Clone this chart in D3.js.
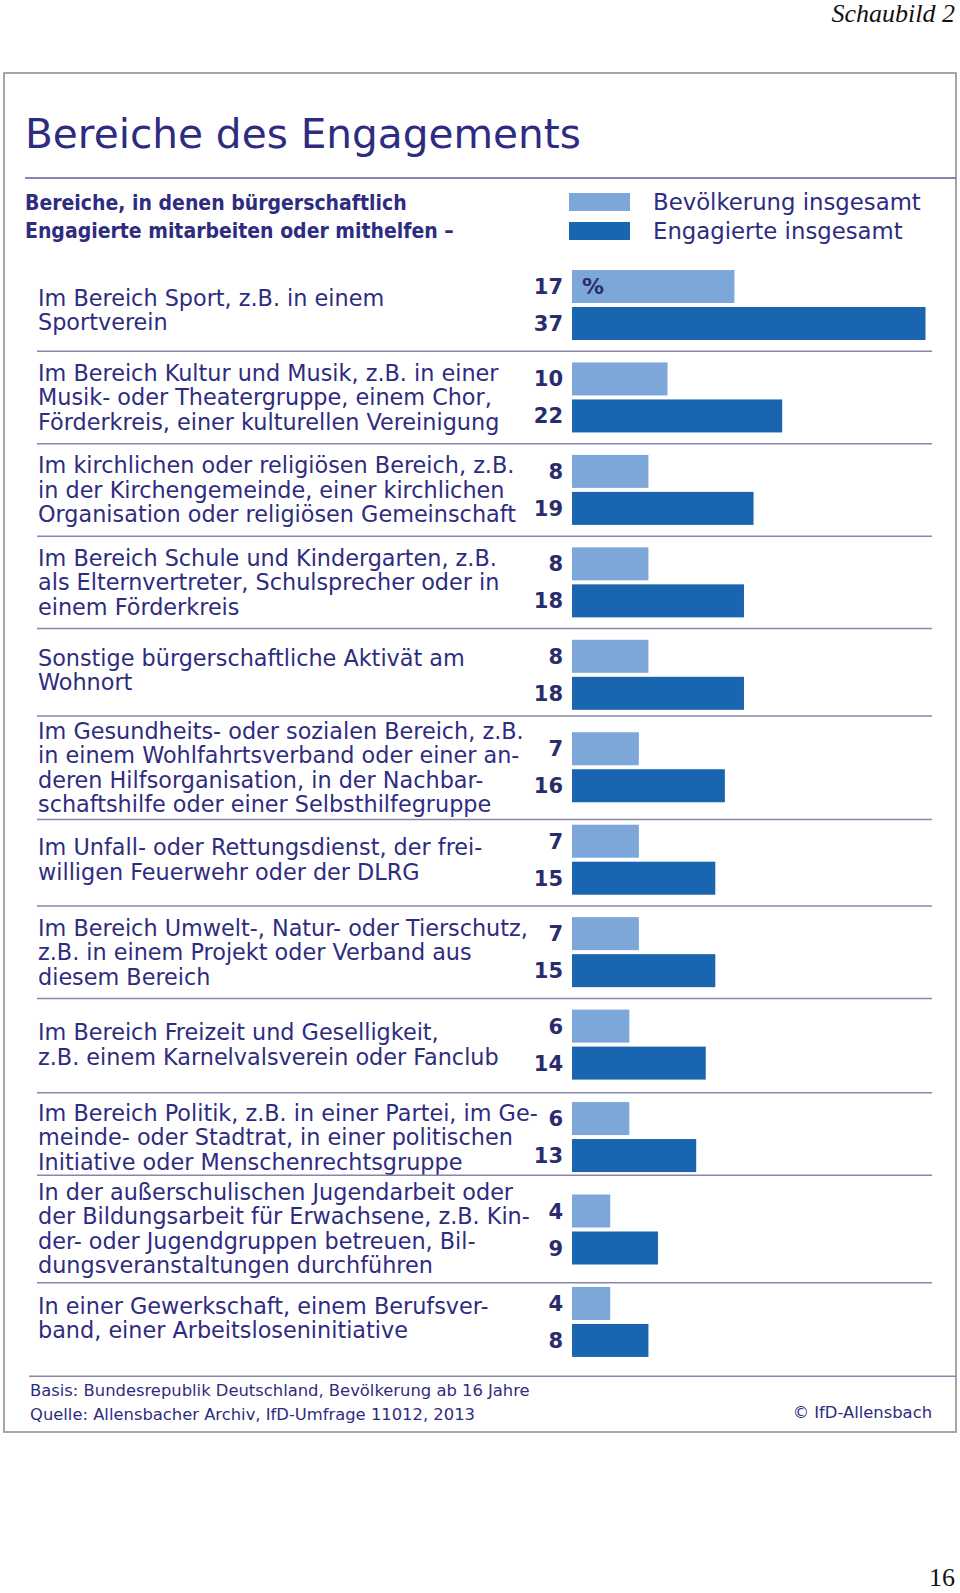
<!DOCTYPE html>
<html>
<head>
<meta charset="utf-8">
<script src="https://cdn.jsdelivr.net/npm/d3@7"></script>
<style>
  html, body { margin: 0; padding: 0; background: #fff; }
  svg { display: block; }
</style>
</head>
<body>
<script>
// ---------- DATA ----------
const categories = [
  ["Im Bereich Sport, z.B. in einem", "Sportverein"],
  ["Im Bereich Kultur und Musik, z.B. in einer", "Musik- oder Theatergruppe, einem Chor,", "Förderkreis, einer kulturellen Vereinigung"],
  ["Im kirchlichen oder religiösen Bereich, z.B.", "in der Kirchengemeinde, einer kirchlichen", "Organisation oder religiösen Gemeinschaft"],
  ["Im Bereich Schule und Kindergarten, z.B.", "als Elternvertreter, Schulsprecher oder in", "einem Förderkreis"],
  ["Sonstige bürgerschaftliche Aktivät am", "Wohnort"],
  ["Im Gesundheits- oder sozialen Bereich, z.B.", "in einem Wohlfahrtsverband oder einer an-", "deren Hilfsorganisation, in der Nachbar-", "schaftshilfe oder einer Selbsthilfegruppe"],
  ["Im Unfall- oder Rettungsdienst, der frei-", "willigen Feuerwehr oder der DLRG"],
  ["Im Bereich Umwelt-, Natur- oder Tierschutz,", "z.B. in einem Projekt oder Verband aus", "diesem Bereich"],
  ["Im Bereich Freizeit und Geselligkeit,", "z.B. einem Karnelvalsverein oder Fanclub"],
  ["Im Bereich Politik, z.B. in einer Partei, im Ge-", "meinde- oder Stadtrat, in einer politischen", "Initiative oder Menschenrechtsgruppe"],
  ["In der außerschulischen Jugendarbeit oder", "der Bildungsarbeit für Erwachsene, z.B. Kin-", "der- oder Jugendgruppen betreuen, Bil-", "dungsveranstaltungen durchführen"],
  ["In einer Gewerkschaft, einem Berufsver-", "band, einer Arbeitsloseninitiative"]
];
const bevoelkerung = [17, 10, 8, 8, 8, 7, 7, 7, 6, 6, 4, 4];
const engagierte   = [37, 22, 19, 18, 18, 16, 15, 15, 14, 13, 9, 8];
const seriesNames  = ["Bevölkerung insgesamt", "Engagierte insgesamt"];
const title        = "Bereiche des Engagements";
const subtitle     = ["Bereiche, in denen bürgerschaftlich", "Engagierte mitarbeiten oder mithelfen –"];
const footnotes    = ["Basis: Bundesrepublik Deutschland, Bevölkerung ab 16 Jahre", "Quelle: Allensbacher Archiv, IfD-Umfrage 11012, 2013"];
const copyright    = "© IfD-Allensbach";
const pageHeader   = "Schaubild 2";
const pageNumber   = "16";
const unitLabel    = "%";

// ---------- STYLE / LAYOUT ----------
const W = 960, H = 1593;
const FONT = "'DejaVu Sans', 'Noto Sans', sans-serif";
const TEXT = "#2e2c80", NUM = "#2a2d6c";
const LIGHT = "#7ea7d9", DARK = "#1a65b0";
const SEP = "#8986ad";
const sepShift = [0, 0, 0, 0, -5, 6, 0, 0, 2, -8, 7, 8];     // layout tweaks for separators
const labShift = [5, 0, 0, 0, -5, 0, 0, 0, 0, 0, -1, -4];    // layout tweaks for label blocks

const svg = d3.select("body").append("svg").attr("width", W).attr("height", H);

// width calibration helper
function fitSize(str, weight, target, family) {
  const t = svg.append("text").attr("font-family", family || FONT).attr("font-weight", weight)
    .attr("font-size", 100).text(str);
  const w = t.node().getComputedTextLength();
  t.remove();
  return 100 * target / w;
}

// frame
svg.append("rect").attr("x", 4).attr("y", 73).attr("width", 952).attr("height", 1359)
  .attr("fill", "none").attr("stroke", "#a6a6a6").attr("stroke-width", 2);

// page header / number
svg.append("text").attr("x", 955).attr("y", 22).attr("text-anchor", "end")
  .attr("font-family", "'Liberation Serif', serif").attr("font-style", "italic")
  .attr("font-size", 26).attr("fill", "#111").text(pageHeader);
svg.append("text").attr("x", 955).attr("y", 1586).attr("text-anchor", "end")
  .attr("font-family", "'Liberation Serif', serif")
  .attr("font-size", 26).attr("fill", "#111").text(pageNumber);

// title
const titleSize = fitSize(title, 400, 556);
svg.append("text").attr("x", 25).attr("y", 148).attr("font-family", FONT)
  .attr("font-size", titleSize).attr("fill", TEXT).text(title);
svg.append("line").attr("x1", 25).attr("x2", 956).attr("y1", 178).attr("y2", 178)
  .attr("stroke", "#5c5a9e").attr("stroke-width", 1.5);

// subtitle
const SUBFONT = "'DejaVu Sans Condensed', 'DejaVu Sans', sans-serif";
const subSize = fitSize(subtitle[1], 700, 429, SUBFONT);
svg.selectAll("text.sub").data(subtitle).join("text").attr("class", "sub")
  .attr("x", 25).attr("y", (d, i) => 202 + i * 28 + subSize * 0.36)
  .attr("font-family", SUBFONT).attr("font-weight", 700)
  .attr("font-size", subSize).attr("fill", TEXT).text(d => d);

// legend
const legSize = fitSize(seriesNames[0], 400, 268);
const leg = svg.selectAll("g.leg").data(seriesNames).join("g").attr("class", "leg")
  .attr("transform", (d, i) => `translate(0,${202 + i * 29})`);
leg.append("rect").attr("x", 569).attr("y", -9).attr("width", 61).attr("height", 18)
  .attr("fill", (d, i) => i ? DARK : LIGHT);
leg.append("text").attr("x", 653).attr("y", legSize * 0.36).attr("font-family", FONT)
  .attr("font-size", legSize).attr("fill", TEXT).text(d => d);

// scales
const idx = d3.range(categories.length);
const pitch = 92.45;
const y = d3.scaleBand().domain(idx).range([262, 262 + pitch * categories.length]).padding(0);
const yInner = d3.scaleBand().domain(["pop", "eng"]).range([8, 78]).paddingInner(0.108).paddingOuter(0);
const x = d3.scaleLinear().domain([0, d3.max(engagierte)]).range([572, 925.5]);

const rows = idx.map(i => ({
  i, lines: categories[i],
  vals: [{ k: "pop", v: bevoelkerung[i] }, { k: "eng", v: engagierte[i] }]
}));

const labSize = fitSize("Organisation oder religiösen Gemeinschaft", 400, 478);
const lineH = 24.5;
const numSize = 21;

const g = svg.selectAll("g.row").data(rows).join("g").attr("class", "row")
  .attr("transform", d => `translate(0,${y(d.i)})`);

// bars
g.selectAll("rect.bar").data(d => d.vals).join("rect").attr("class", "bar")
  .attr("x", x(0)).attr("y", d => yInner(d.k))
  .attr("width", d => x(d.v) - x(0)).attr("height", yInner.bandwidth())
  .attr("fill", d => d.k === "pop" ? LIGHT : DARK);

// values
g.selectAll("text.val").data(d => d.vals).join("text").attr("class", "val")
  .attr("x", 563).attr("y", d => yInner(d.k) + yInner.bandwidth() / 2 + numSize * 0.36)
  .attr("text-anchor", "end").attr("font-family", FONT).attr("font-weight", 700)
  .attr("font-size", numSize).attr("fill", NUM).text(d => d.v);

// labels
const mid = (yInner("pop") + yInner("eng") + yInner.bandwidth()) / 2;
g.each(function (d) {
  const n = d.lines.length;
  d3.select(this).selectAll("text.lab").data(d.lines).join("text").attr("class", "lab")
    .attr("x", 38)
    .attr("y", (t, j) => mid + labShift[d.i] + (j - (n - 1) / 2) * lineH + labSize * 0.36)
    .attr("font-family", FONT).attr("font-size", labSize).attr("fill", TEXT).text(t => t);
});

// unit label in first bar
svg.append("text").attr("x", 582)
  .attr("y", y(0) + yInner("pop") + yInner.bandwidth() / 2 + 22 * 0.36)
  .attr("font-family", FONT).attr("font-weight", 600).attr("font-size", 22)
  .attr("fill", NUM).text(unitLabel);

// separators
const sepY = d => y(d) + yInner("eng") + yInner.bandwidth() + (pitch - 70) / 2 + sepShift[d];
svg.selectAll("line.sep").data(idx).join("line").attr("class", "sep")
  .attr("x1", d => d === idx.length - 1 ? 29 : 37)
  .attr("x2", d => d === idx.length - 1 ? 956 : 932)
  .attr("y1", sepY).attr("y2", sepY)
  .attr("stroke", SEP).attr("stroke-width", 1.5);

// footer
const footSize = fitSize(footnotes[0], 400, 500);
svg.selectAll("text.foot").data(footnotes).join("text").attr("class", "foot")
  .attr("x", 30).attr("y", (d, i) => 1390 + i * 24 + footSize * 0.36)
  .attr("font-family", FONT).attr("font-size", footSize).attr("fill", TEXT).text(d => d);
svg.append("text").attr("x", 932).attr("y", 1412 + footSize * 0.36).attr("text-anchor", "end")
  .attr("font-family", FONT).attr("font-size", footSize).attr("fill", TEXT).text(copyright);
</script>
</body>
</html>
